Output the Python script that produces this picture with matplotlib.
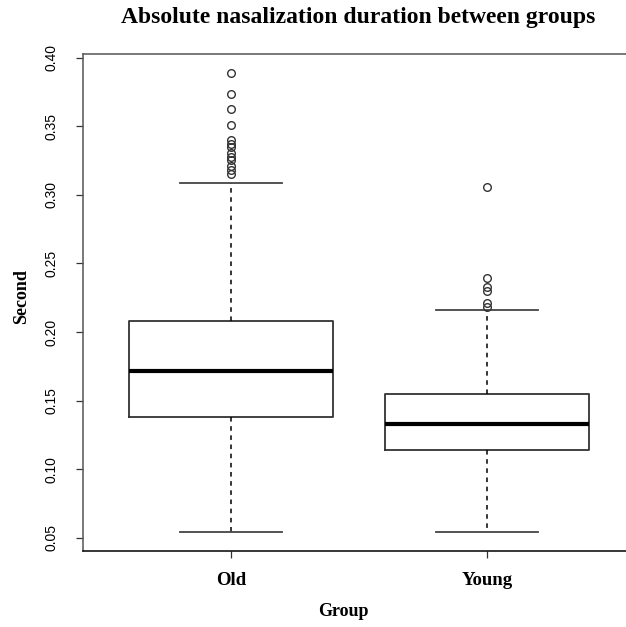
import matplotlib
matplotlib.use("Agg")
import matplotlib.pyplot as plt

groups = ["Old", "Young"]
whislo = [0.0547, 0.0547]
q1 = [0.1381, 0.1143]
med = [0.1713, 0.1330]
q3 = [0.2084, 0.1550]
whishi = [0.3086, 0.2162]
outliers_old = [0.3887, 0.3734, 0.3625, 0.3509, 0.3399, 0.3370, 0.3348,
                0.3305, 0.3276, 0.3254, 0.3210, 0.3181, 0.3152]
outliers_young = [0.3057, 0.2395, 0.2329, 0.2300, 0.2213, 0.2184]
yticks = [0.05, 0.10, 0.15, 0.20, 0.25, 0.30, 0.35, 0.40]

fliers = [outliers_old, outliers_young]
stats = []
for i, g in enumerate(groups):
    stats.append(dict(label=g, whislo=whislo[i], q1=q1[i], med=med[i],
                      q3=q3[i], whishi=whishi[i], fliers=fliers[i]))

W, H = 626, 627
fig = plt.figure(figsize=(W / 100, H / 100), dpi=100)
left, right, top, bottom = 82.5, 635.5, 54, 551
ax = fig.add_axes([left / W, 1 - bottom / H, (right - left) / W, (bottom - top) / H])

ax.bxp(stats, positions=[1, 2], widths=0.8, showfliers=True,
       boxprops=dict(color="#333333", linewidth=1.3),
       medianprops=dict(color="black", linewidth=3),
       whiskerprops=dict(color="black", linewidth=1.1, linestyle=(0, (3, 3))),
       capprops=dict(color="#444444", linewidth=1.3),
       flierprops=dict(marker="o", markersize=5.5, markerfacecolor="none",
                       markeredgecolor="#333333", markeredgewidth=1.0))

ax.set_xlim(0.42, 2.58)
ax.set_ylim(0.04053, 0.40255)
ax.set_yticks(yticks)
ax.set_yticklabels([f"{t:.2f}" for t in yticks], rotation=90, va="center",
                   fontsize=10, family="Liberation Sans")
ax.set_xticks([1, 2])
ax.set_xticklabels(groups, fontsize=13.5, fontweight="bold", family="Liberation Serif")
ax.tick_params(axis="y", length=5, width=0.9, pad=12, colors="#333333")
ax.tick_params(axis="x", length=5, width=0.9, pad=10, colors="#333333")
for lab in ax.get_yticklabels() + ax.get_xticklabels():
    lab.set_color("black")
for s in ax.spines.values():
    s.set_color("#555555")
    s.set_linewidth(1.1)
ax.spines["bottom"].set_color("black")

fig.text(358 / W, 1 - 17 / H, "Absolute nasalization duration between groups",
         ha="center", va="center", fontsize=17, fontweight="bold",
         family="Liberation Serif")
fig.text(22 / W, 1 - 297 / H, "Second", rotation=90, ha="center", va="center",
         fontsize=13, fontweight="bold", family="Liberation Serif")
fig.text(343 / W, 1 - 611 / H, "Group", ha="center", va="center",
         fontsize=13, fontweight="bold", family="Liberation Serif")

fig.savefig("out.png", dpi=100)
